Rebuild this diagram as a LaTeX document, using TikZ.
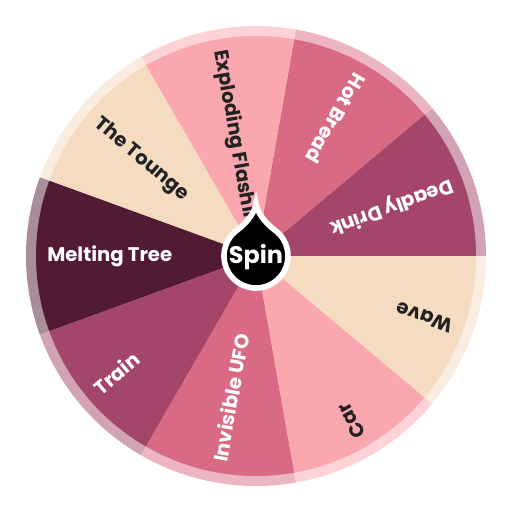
\documentclass[tikz,border=0pt]{standalone}
\usepackage{fontspec}
\setmainfont{Poppins}
\usepackage{xcolor}
\usepackage{tikz}
\usetikzlibrary{calc}

% mau cua cac o
\definecolor{mauTim}{HTML}{A4466A}
\definecolor{mauHong}{HTML}{D86A83}
\definecolor{mauNhat}{HTML}{FBA7B0}
\definecolor{mauKem}{HTML}{F5DBC0}
\definecolor{mauDam}{HTML}{521B33}
\definecolor{chuDen}{HTML}{222222}

\begin{document}
\begin{tikzpicture}[x=0.025cm, y=0.025cm,
    nhanTrang/.style={text=white, font=\fontsize{14}{16}\selectfont\bfseries, inner sep=0pt, anchor=west},
    nhanDen/.style={text=chuDen, font=\fontsize{14}{16}\selectfont\bfseries, inner sep=0pt, anchor=west}]
    % --- VONG QUAY: 9 O, MOI O 40 DO ---
    % Khai bao ban kinh vien ngoai, ban kinh o va vi tri chu
    \def\R{230}
    \def\r{220}
    \def\t{209}
    \useasboundingbox (-256,-256) rectangle (256,256);

    % Vien ngoai nhat mau
    \fill[mauTim!50] (0,0) -- (0:\R) arc (0:40:\R) -- cycle;
    \fill[mauHong!50] (0,0) -- (40:\R) arc (40:80:\R) -- cycle;
    \fill[mauNhat!50] (0,0) -- (80:\R) arc (80:120:\R) -- cycle;
    \fill[mauKem!50] (0,0) -- (120:\R) arc (120:160:\R) -- cycle;
    \fill[mauDam!50] (0,0) -- (160:\R) arc (160:200:\R) -- cycle;
    \fill[mauTim!50] (0,0) -- (200:\R) arc (200:240:\R) -- cycle;
    \fill[mauHong!50] (0,0) -- (240:\R) arc (240:280:\R) -- cycle;
    \fill[mauNhat!50] (0,0) -- (280:\R) arc (280:320:\R) -- cycle;
    \fill[mauKem!50] (0,0) -- (320:\R) arc (320:360:\R) -- cycle;

    % Cac o chinh
    \fill[mauTim] (0,0) -- (0:\r) arc (0:40:\r) -- cycle;
    \fill[mauHong] (0,0) -- (40:\r) arc (40:80:\r) -- cycle;
    \fill[mauNhat] (0,0) -- (80:\r) arc (80:120:\r) -- cycle;
    \fill[mauKem] (0,0) -- (120:\r) arc (120:160:\r) -- cycle;
    \fill[mauDam] (0,0) -- (160:\r) arc (160:200:\r) -- cycle;
    \fill[mauTim] (0,0) -- (200:\r) arc (200:240:\r) -- cycle;
    \fill[mauHong] (0,0) -- (240:\r) arc (240:280:\r) -- cycle;
    \fill[mauNhat] (0,0) -- (280:\r) arc (280:320:\r) -- cycle;
    \fill[mauKem] (0,0) -- (320:\r) arc (320:360:\r) -- cycle;

    % Chu tren cac o
    \node[nhanTrang, rotate=-160] (deadly) at (20:\t) {Deadly Drink};
    \node[nhanTrang, rotate=-120] (hotbread) at (60:\t) {Hot Bread};
    \node[nhanDen, rotate=-80] (exploding) at (100:\t) {Exploding Flashing};
    \node[nhanDen, rotate=-40] (tounge) at (140:\t) {The Tounge};
    \node[nhanTrang, rotate=0] (melting) at (180:\t) {Melting Tree};
    \node[nhanTrang, rotate=40] (train) at (220:\t) {Train};
    \node[nhanTrang, rotate=80] (ufo) at (260:\t) {Invisible UFO};
    \node[nhanDen, rotate=120] (car) at (300:\t) {Car};
    \node[nhanDen, rotate=160] (wave) at (340:\t) {Wave};

    % Nut quay o giua
    \draw[fill=black, draw=white, line width=4] (55:32) .. controls (7,35) and (1,45) .. (0,52)
        .. controls (-1,45) and (-7,35) .. (125:32) arc (125:415:32) -- cycle;
    \node[text=white, font=\fontsize{17}{20}\selectfont\bfseries] (spin) at (0,-1) {Spin};
\end{tikzpicture}
\end{document}
